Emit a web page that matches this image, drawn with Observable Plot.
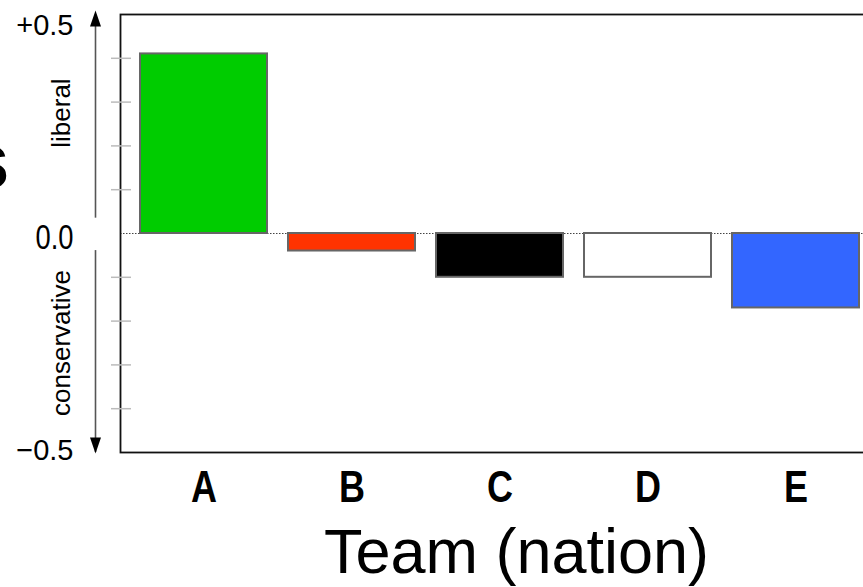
<!DOCTYPE html>
<html>
<head>
<meta charset="utf-8">
<script src="https://cdn.jsdelivr.net/npm/d3@7"></script>
<script src="https://cdn.jsdelivr.net/npm/@observablehq/plot@0.6"></script>
<style>
  html, body { margin: 0; padding: 0; background: white; overflow: hidden; }
</style>
</head>
<body>
<div id="chart"></div>
<script>
const teams = ["A", "B", "C", "D", "E"];
const values = [0.41, -0.04, -0.10, -0.10, -0.17];
const colors = ["#00cc00", "#ff3300", "#000000", "#ffffff", "#3366ff"];
const yTickValues = [0.5, 0, -0.5];
const yTickLabels = ["+0.5", "0.0", "\u22120.5"];
const minorTicks = [0.4, 0.3, 0.2, 0.1, -0.1, -0.2, -0.3, -0.4];
const sideNotes = ["liberal", "conservative"];
const sideNoteY = [0.275, -0.25];
const xTitle = "Team (nation)";

const data = teams.map((t, i) => ({team: t, value: values[i], color: colors[i]}));

const sans = "'Liberation Sans', Arial, sans-serif";

const upHead = {draw(ctx) { ctx.moveTo(0, 0); ctx.lineTo(5.5, 16); ctx.lineTo(-5.5, 16); ctx.closePath(); }};

const labelDy = [11, 3.5, -2];
const labelSize = [29, 36, 29];

const W = 879, H = 587, ML = 120, MR = 0, MT = 14, MB = 135;
const cx = (ML + W - MR) / 2;

const marks = [
  Plot.ruleY([0], {stroke: "#444", strokeWidth: 1, strokeDasharray: "1.5,1.5"}),
  Plot.barY(data, {x: "team", y: "value", fill: "color", stroke: "#666", strokeWidth: 2}),
  Plot.frame({stroke: "#111", strokeWidth: 1.8}),
  Plot.axisY({ticks: minorTicks, tickSize: 20, dx: 11, tickFormat: () => "", stroke: "#bbb", strokeWidth: 1.5, label: null}),
  Plot.axisX({tickSize: 0, tickPadding: 18, fontSize: 45, fontWeight: "bold", fontFamily: sans, label: null, fill: "black"}),
  ...yTickValues.map((v, i) => Plot.text([v], {
    y: d => d, text: () => yTickLabels[i], frameAnchor: "left", dx: -47, dy: labelDy[i],
    textAnchor: "end", fontSize: labelSize[i], fontFamily: sans, fill: "black"
  })),
  Plot.text(sideNotes, {
    y: (d, i) => sideNoteY[i], text: d => d, frameAnchor: "left", dx: -59, rotate: -90,
    textAnchor: "middle", lineAnchor: "middle",
    fontSize: 26, fontFamily: sans, fill: "black"
  }),
  Plot.ruleX([null], {x: null, y1: 0.5, y2: 0.035, dx: 95 - cx, stroke: "#555", strokeWidth: 1.6}),
  Plot.ruleX([null], {x: null, y1: -0.039, y2: -0.5, dx: 95 - cx, stroke: "#555", strokeWidth: 1.6}),
  Plot.dot([0.5], {y: d => d, frameAnchor: "left", dx: -25, dy: -4, symbol: upHead, r: 1, fill: "black", stroke: "none"}),
  Plot.dot([-0.5], {y: d => d, frameAnchor: "left", dx: -25, dy: 1, symbol: upHead, r: 1, rotate: 180, fill: "black", stroke: "none"}),
  Plot.text(["s"], {y: () => 0.105, text: d => d, frameAnchor: "left", dx: 9 - ML, textAnchor: "end", lineAnchor: "bottom",
    fontSize: 80, fontWeight: "bold", fontFamily: sans, fill: "black"}),
  Plot.text([xTitle], {text: d => d, frameAnchor: "bottom", dx: 516 - cx, dy: 120, lineAnchor: "bottom", textAnchor: "middle",
    fontSize: 63, fontFamily: sans, fill: "black"})
];

const chart = Plot.plot({
  width: W, height: H,
  marginLeft: ML, marginRight: MR, marginTop: MT, marginBottom: MB,
  style: {fontFamily: sans, background: "white", maxWidth: "none", overflow: "visible"},
  x: {domain: teams, paddingInner: 0.139, paddingOuter: 0.121},
  y: {domain: [-0.5, 0.5]},
  color: {type: "identity"},
  marks
});

// condensed look: horizontally squeeze some texts (style only)
function squeeze(t, k) {
  const tr = t.getAttribute("transform");
  if (tr) {
    t.setAttribute("transform", tr + ` scale(${k},1)`);
  } else {
    const x = +t.getAttribute("x") || 0, y = +t.getAttribute("y") || 0;
    t.removeAttribute("x"); t.removeAttribute("y");
    t.setAttribute("transform", `translate(${x},${y}) scale(${k},1)`);
  }
}
chart.querySelectorAll('g[aria-label="x-axis tick label"] text').forEach(t => squeeze(t, 0.8));
chart.querySelectorAll('text').forEach(t => { if (t.textContent === yTickLabels[1]) squeeze(t, 0.76); });

document.getElementById("chart").appendChild(chart);
</script>
</body>
</html>
